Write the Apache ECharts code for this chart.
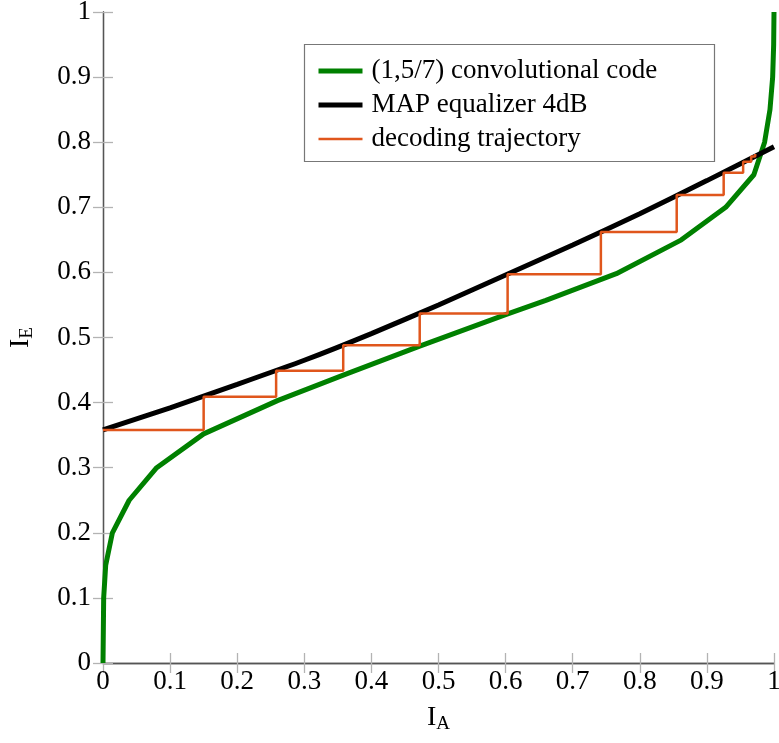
<!DOCTYPE html>
<html><head><meta charset="utf-8">
<script src="https://cdn.jsdelivr.net/npm/echarts@6/dist/echarts.min.js"></script>
<style>html,body{margin:0;padding:0;background:#fff}#c{width:779px;height:743px}</style>
</head><body><div id="c"></div>
<script>
const codeX = [0, 0.001, 0.004, 0.014, 0.039, 0.08, 0.15, 0.26, 0.36, 0.47, 0.6, 0.66, 0.765, 0.862, 0.928, 0.97, 0.986, 0.994, 0.998, 0.9995, 1];
const codeY = [0, 0.1, 0.15, 0.2, 0.25, 0.3, 0.352, 0.403, 0.443, 0.486, 0.535, 0.557, 0.598, 0.65, 0.7, 0.75, 0.8, 0.85, 0.9, 0.95, 1];
const eqX = [0, 0.1, 0.2, 0.3, 0.4, 0.5, 0.6, 0.7, 0.8, 0.9, 1];
const eqY = [0.358, 0.392, 0.428, 0.465, 0.506, 0.55, 0.596, 0.642, 0.69, 0.741, 0.793];
const trajX = [0, 0.15, 0.15, 0.258, 0.258, 0.358, 0.358, 0.472, 0.472, 0.603, 0.603, 0.742, 0.742, 0.855, 0.855, 0.925, 0.925, 0.954, 0.954, 0.966, 0.966, 0.972, 0.972];
const trajY = [0.358, 0.358, 0.409, 0.409, 0.449, 0.449, 0.488, 0.488, 0.537, 0.537, 0.597, 0.597, 0.662, 0.662, 0.719, 0.719, 0.753, 0.753, 0.770, 0.770, 0.778, 0.778, 0.782];
const names = ['(1,5/7) convolutional code', 'MAP equalizer 4dB', 'decoding trajectory'];

const zip = (a, b) => a.map((v, i) => [v, b[i]]);
const FONT = 'Liberation Serif';
const axisLine = {show: true, lineStyle: {color: '#555', width: 1.3}};
const axisTick = {show: true, inside: true, length: 10, lineStyle: {color: '#b3b3b3', width: 1.3}};
const base = {type: 'value', min: 0, max: 1, interval: 0.1, splitLine: {show: false}, axisLine, axisTick};
const fmt = v => String(+v.toFixed(1));

const chart = echarts.init(document.getElementById('c'));
chart.setOption({
  animation: false,
  backgroundColor: '#fff',
  grid: {left: 103, right: 5, top: 12, bottom: 80, outerBoundsMode: 'none', containLabel: false},
  xAxis: [
    Object.assign({}, base, {position: 'bottom',
      axisLabel: {fontFamily: FONT, fontSize: 27, color: '#000', margin: 5, formatter: fmt},
      name: '{m|I}{s|A}', nameLocation: 'middle', nameGap: 41,
      nameTextStyle: {rich: {
        m: {fontFamily: FONT, fontSize: 28, color: '#000', lineHeight: 30, verticalAlign: 'top'},
        s: {fontFamily: FONT, fontSize: 19, color: '#000', lineHeight: 30, verticalAlign: 'bottom'}}}}),
    Object.assign({}, base, {position: 'top', axisLabel: {show: false}})
  ],
  yAxis: [
    Object.assign({}, base, {position: 'left',
      axisLabel: {fontFamily: FONT, fontSize: 27, color: '#000', margin: 12, formatter: fmt},
      name: '{m|I}{s|E}', nameLocation: 'middle', nameGap: 66, nameRotate: 90,
      nameTextStyle: {rich: {
        m: {fontFamily: FONT, fontSize: 28, color: '#000', lineHeight: 30, verticalAlign: 'top'},
        s: {fontFamily: FONT, fontSize: 19, color: '#000', lineHeight: 30, verticalAlign: 'bottom'}}}}),
    Object.assign({}, base, {position: 'right', axisLabel: {show: false}})
  ],
  legend: {
    left: 311, top: 51, orient: 'vertical', itemWidth: 44, itemHeight: 14, itemGap: 4,
    data: names,
    itemStyle: {opacity: 0},
    lineStyle: {width: 'inherit'},
    textStyle: {fontFamily: FONT, fontSize: 27, color: '#000', lineHeight: 30, padding: [0, 0, 0, 4]}
  },
  graphic: [{type: 'rect', z: 3, shape: {x: 304.5, y: 44.5, width: 410, height: 117},
    style: {fill: '#fff', stroke: '#777', lineWidth: 1.2}}],
  series: [
    {name: names[0], type: 'line', data: zip(codeX, codeY), symbol: 'none', lineStyle: {color: '#008000', width: 5}, itemStyle: {color: '#008000'}, z: 2},
    {name: names[1], type: 'line', data: zip(eqX, eqY), symbol: 'none', smooth: 0.2, lineStyle: {color: '#000', width: 5}, itemStyle: {color: '#000'}, z: 3},
    {name: names[2], type: 'line', data: zip(trajX, trajY), symbol: 'none', lineStyle: {color: '#e0561c', width: 2.5}, itemStyle: {color: '#e0561c'}, z: 4}
  ]
});
</script></body></html>
